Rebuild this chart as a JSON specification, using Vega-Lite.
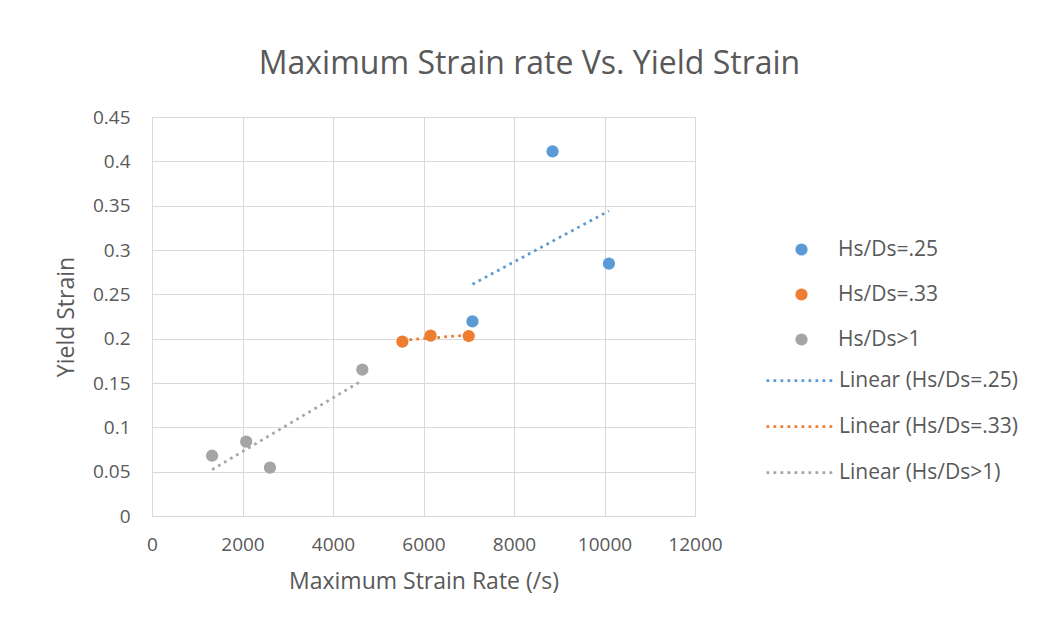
{
  "$schema": "https://vega.github.io/schema/vega-lite/v6.json",
  "autosize": {"type": "none"},
  "width": 543,
  "height": 399,
  "padding": {"left": 152, "top": 117, "right": 351, "bottom": 127},
  "background": "white",
  "title": {
    "text": "Maximum Strain rate Vs. Yield Strain",
    "font": "Open Sans",
    "fontSize": 32,
    "fontWeight": "normal",
    "color": "#595959",
    "anchor": "middle",
    "dx": 106,
    "offset": 27
  },
  "config": {
    "view": {"stroke": "#D9D9D9", "strokeWidth": 1},
    "axis": {
      "labelFont": "Open Sans",
      "labelFontSize": 19,
      "labelColor": "#595959",
      "labelFlush": false,
      "titleFont": "Open Sans",
      "titleFontSize": 23,
      "titleFontWeight": "normal",
      "titleColor": "#595959",
      "gridColor": "#D9D9D9",
      "gridWidth": 1,
      "ticks": false,
      "domainColor": "#D9D9D9"
    },
    "legend": {
      "labelFont": "Open Sans",
      "labelFontSize": 21,
      "labelColor": "#595959",
      "labelLimit": 300
    }
  },
  "data": {
    "values": [
      {"rate": 7082, "strain": 0.2195, "series": "Hs/Ds=.25"},
      {"rate": 8852, "strain": 0.4113, "series": "Hs/Ds=.25"},
      {"rate": 10098, "strain": 0.2846, "series": "Hs/Ds=.25"},
      {"rate": 5533, "strain": 0.1966, "series": "Hs/Ds=.33"},
      {"rate": 6156, "strain": 0.2034, "series": "Hs/Ds=.33"},
      {"rate": 7000, "strain": 0.2030, "series": "Hs/Ds=.33"},
      {"rate": 1328, "strain": 0.068, "series": "Hs/Ds>1"},
      {"rate": 2082, "strain": 0.0838, "series": "Hs/Ds>1"},
      {"rate": 2607, "strain": 0.0545, "series": "Hs/Ds>1"},
      {"rate": 4648, "strain": 0.165, "series": "Hs/Ds>1"}
    ]
  },
  "layer": [
    {
      "transform": [
        {"regression": "strain", "on": "rate", "groupby": ["series"], "method": "linear"},
        {"calculate": "'Linear (' + datum.series + ')'", "as": "trend"}
      ],
      "mark": {"type": "line", "strokeWidth": 2.75, "strokeDash": [2.75, 4.25], "strokeCap": "butt"},
      "encoding": {
        "x": {"field": "rate", "type": "quantitative"},
        "y": {"field": "strain", "type": "quantitative"},
        "stroke": {
          "field": "trend",
          "type": "nominal",
          "scale": {
            "domain": ["Linear (Hs/Ds=.25)", "Linear (Hs/Ds=.33)", "Linear (Hs/Ds>1)"],
            "range": ["#5B9BD5", "#ED7D31", "#A5A5A5"]
          },
          "legend": {
            "title": null,
            "orient": "none",
            "legendX": 613,
            "legendY": 228,
            "symbolType": "stroke",
            "symbolSize": 4624,
            "symbolStrokeWidth": 2.75,
            "symbolDash": [2.75, 4.25],
            "labelOffset": 3,
            "rowPadding": -10
          }
        }
      }
    },
    {
      "mark": {"type": "point", "filled": true, "opacity": 1, "size": 150, "shape": "circle"},
      "encoding": {
        "x": {
          "field": "rate",
          "type": "quantitative",
          "title": "Maximum Strain Rate (/s)",
          "scale": {"domain": [0, 12000], "nice": false},
          "axis": {"values": [0, 2000, 4000, 6000, 8000, 10000, 12000], "format": "d", "labelPadding": 19, "titlePadding": 16}
        },
        "y": {
          "field": "strain",
          "type": "quantitative",
          "title": "Yield Strain",
          "scale": {"domain": [0, 0.45], "nice": false},
          "axis": {"values": [0, 0.05, 0.1, 0.15, 0.2, 0.25, 0.3, 0.35, 0.4, 0.45], "format": "~g", "labelPadding": 22, "titlePadding": 14}
        },
        "color": {
          "field": "series",
          "type": "nominal",
          "scale": {
            "domain": ["Hs/Ds=.25", "Hs/Ds=.33", "Hs/Ds>1"],
            "range": ["#5B9BD5", "#ED7D31", "#A5A5A5"]
          },
          "legend": {
            "title": null,
            "orient": "none",
            "legendX": 639,
            "legendY": 122,
            "symbolType": "circle",
            "symbolSize": 150,
            "symbolOpacity": 1,
            "labelOffset": 26,
            "rowPadding": 23
          }
        }
      }
    }
  ]
}
